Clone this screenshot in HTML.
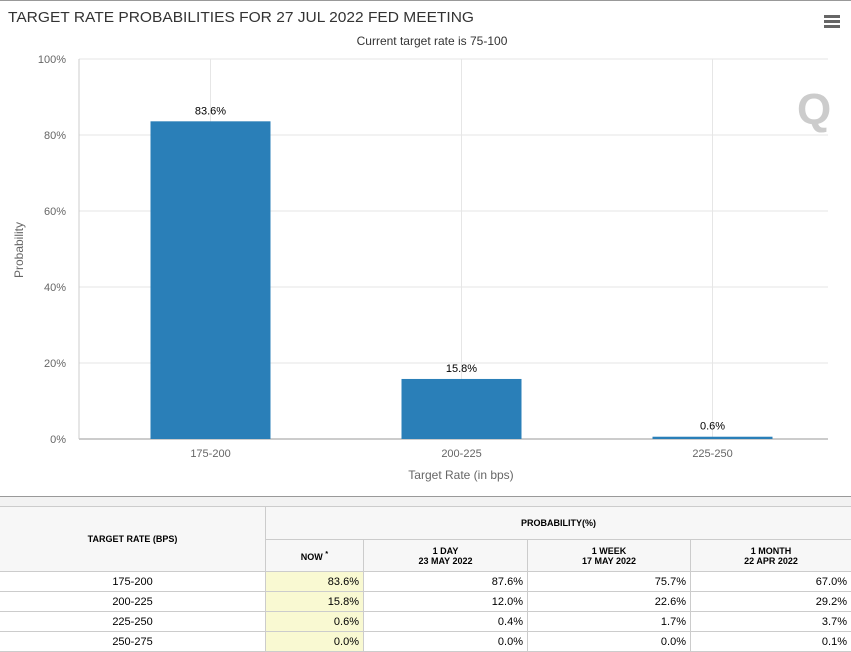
<!DOCTYPE html>
<html><head><meta charset="utf-8"><style>
body{margin:0;width:851px;height:652px;overflow:hidden;background:#fff;font-family:"Liberation Sans",sans-serif;position:relative}
table{position:absolute;left:-1px;top:506px;width:853px;border-collapse:collapse;font-size:11px;color:#000}
td,th{border:1px solid #ccc;padding:0 4px;height:19px}
th{background:#f7f7f7;font-size:9px;font-weight:bold;text-align:center}
td{text-align:right}
td.c{text-align:center}
td.now{background:#f9f9d2}
</style></head><body>
<div style="position:absolute;left:0;top:0;width:851px;height:1px;background:#999"></div>
<svg width="851" height="495" style="position:absolute;left:0;top:0" id="chart">
<text x="8" y="22" font-size="15" fill="#333" textLength="466" lengthAdjust="spacingAndGlyphs">TARGET RATE PROBABILITIES FOR 27 JUL 2022 FED MEETING</text>
<text x="432" y="45" font-size="12" fill="#333" text-anchor="middle">Current target rate is 75-100</text>
<g fill="#666"><rect x="824" y="15" width="16" height="3"/><rect x="824" y="20" width="16" height="3"/><rect x="824" y="25" width="16" height="3"/></g>
<text x="797" y="124" font-size="44" fill="#ccc" font-weight="bold">Q</text>
<text transform="translate(23,250) rotate(-90)" font-size="12" fill="#666" text-anchor="middle">Probability</text>
<text x="461" y="479" font-size="12" fill="#666" text-anchor="middle">Target Rate (in bps)</text>
<g id="grid"></g><g id="bars"></g>
</svg>
<div style="position:absolute;left:0;top:496px;width:851px;height:1px;background:#999"></div>
<div style="position:absolute;left:0;top:497px;width:851px;height:9px;background:#f2f2f2"></div>
<table>
<colgroup><col style="width:266px"><col style="width:98px"><col style="width:164px"><col style="width:163px"><col></colgroup>
<tr style="height:33px"><th rowspan="2">TARGET RATE (BPS)</th><th colspan="4">PROBABILITY(%)</th></tr>
<tr style="height:32px"><th>NOW <sup>*</sup></th><th>1 DAY<br>23 MAY 2022</th><th>1 WEEK<br>17 MAY 2022</th><th>1 MONTH<br>22 APR 2022</th></tr>
<tr><td class="c">175-200</td><td class="now">83.6%</td><td>87.6%</td><td>75.7%</td><td>67.0%</td></tr>
<tr><td class="c">200-225</td><td class="now">15.8%</td><td>12.0%</td><td>22.6%</td><td>29.2%</td></tr>
<tr><td class="c">225-250</td><td class="now">0.6%</td><td>0.4%</td><td>1.7%</td><td>3.7%</td></tr>
<tr><td class="c">250-275</td><td class="now">0.0%</td><td>0.0%</td><td>0.0%</td><td>0.1%</td></tr>
</table>
<script>
const categories=["175-200","200-225","225-250"];
const values=[83.6,15.8,0.6];
const yTicks=[0,20,40,60,80,100];
const NS="http://www.w3.org/2000/svg";
const L=79,R=828,T=59,B=439,C0=85,bw=251;
const y=v=>B-(v/100)*(B-T);
const xc=i=>C0+bw*(i+0.5);
function mk(t,a,p,txt){const e=document.createElementNS(NS,t);for(const k in a)e.setAttribute(k,a[k]);if(txt!=null)e.textContent=txt;p.appendChild(e);return e;}
const g=document.getElementById('grid'),b=document.getElementById('bars');
yTicks.forEach(v=>{
  const l=mk('line',{x1:L,x2:R,y1:y(v),y2:y(v),stroke:v===0?'#999':'#e6e6e6'},g);
  
  
  const t=mk('text',{x:L-13,y:y(v)+4,'font-size':11,fill:'#666','text-anchor':'end'},g,v+'%');
  
  
});
const ax=mk('line',{x1:L,x2:L,y1:T,y2:B,stroke:'#ccc'},g);


categories.forEach((c,i)=>{
  const vl=mk('line',{x1:xc(i),x2:xc(i),y1:T,y2:B,stroke:'#e6e6e6'},g);
  
  
  const t=mk('text',{x:xc(i),y:B+18,'font-size':11,fill:'#666','text-anchor':'middle'},g,c);
  
  
  const r=mk('rect',{x:xc(i)-60,y:y(values[i]),width:120,height:Math.max(1,B-y(values[i])),fill:'#2a7fb8'},b);
  
  
  const lb=mk('text',{x:xc(i),y:y(values[i])-7,'font-size':11,fill:'#000','text-anchor':'middle'},b,values[i].toFixed(1)+'%');
  
  
});
</script>
</body></html>
